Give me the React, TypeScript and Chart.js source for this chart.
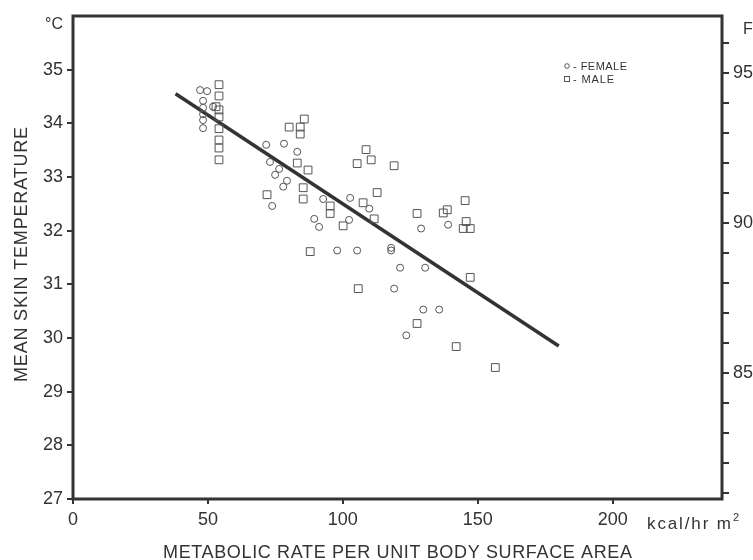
import React, { useEffect, useRef } from 'react';
import { Chart, registerables } from 'chart.js';

Chart.register(...registerables);

// ---- data ----
const femaleX = [47.1, 49.7, 48.2, 48.2, 51.9, 48.2, 48.2, 48.2, 71.6, 78.2, 83.1, 73.0, 76.4, 74.9, 79.3, 77.9, 73.8, 92.7, 89.4, 91.2, 102.7, 109.8, 102.3, 97.9, 105.3, 117.9, 117.9, 129.0, 139.0, 121.2, 130.5, 119.0, 129.8, 135.7, 123.5];
const femaleY = [34.62, 34.60, 34.42, 34.29, 34.31, 34.17, 34.06, 33.91, 33.60, 33.62, 33.47, 33.28, 33.15, 33.04, 32.93, 32.82, 32.46, 32.59, 32.22, 32.07, 32.61, 32.41, 32.20, 31.63, 31.63, 31.68, 31.63, 32.04, 32.11, 31.31, 31.31, 30.92, 30.53, 30.53, 30.05];
const maleX = [54.1, 54.1, 54.1, 53.0, 54.1, 54.1, 54.1, 54.1, 54.1, 85.7, 80.1, 84.2, 84.2, 83.1, 87.1, 85.3, 85.3, 71.9, 95.3, 95.3, 100.1, 108.6, 110.5, 105.3, 119.0, 112.7, 107.5, 111.6, 127.5, 137.2, 138.7, 145.3, 145.7, 144.6, 147.2, 147.2, 105.7, 87.9, 127.5, 142.0, 156.5];
const maleY = [34.72, 34.51, 34.25, 34.31, 34.12, 33.90, 33.69, 33.54, 33.32, 34.08, 33.93, 33.93, 33.80, 33.26, 33.13, 32.80, 32.59, 32.67, 32.46, 32.32, 32.09, 33.51, 33.32, 33.25, 33.21, 32.71, 32.52, 32.22, 32.32, 32.33, 32.39, 32.56, 32.17, 32.04, 32.04, 31.13, 30.92, 31.61, 30.27, 29.84, 29.45];
const fitX = [38, 180];
const fitY = [34.55, 29.85];

const xTicks = [0, 50, 100, 150, 200];
const cTicks = [27, 28, 29, 30, 31, 32, 33, 34, 35];
const fTicks = [81, 82, 83, 84, 85, 86, 87, 88, 89, 90, 91, 92, 93, 94, 95, 96];
const fLabeled = [85, 90, 95];

const xTitle = 'METABOLIC RATE PER UNIT BODY SURFACE AREA';
const yTitle = 'MEAN SKIN TEMPERATURE';
const xUnit = 'kcal/hr m';
const legendFemale = '- FEMALE';
const legendMale = '- MALE';

const FONT = '"Liberation Sans", Arial, sans-serif';
const INK = '#333333';

function spacedText(ctx: CanvasRenderingContext2D, text: string, left: number, y: number, width: number) {
  (ctx as any).letterSpacing = '0px';
  const w = ctx.measureText(text).width;
  const sp = (width - w) / Math.max(1, text.length - 1);
  (ctx as any).letterSpacing = sp.toFixed(2) + 'px';
  ctx.textAlign = 'left';
  ctx.fillText(text, left, y);
  (ctx as any).letterSpacing = '0px';
}

const decor = {
  id: 'decor',
  beforeDraw(chart: any) {
    const ctx = chart.ctx as CanvasRenderingContext2D;
    ctx.save();
    ctx.fillStyle = '#ffffff';
    ctx.fillRect(0, 0, chart.width, chart.height);
    ctx.restore();
  },
  afterDraw(chart: any) {
    const ctx = chart.ctx as CanvasRenderingContext2D;
    const a = chart.chartArea;
    ctx.save();
    ctx.strokeStyle = INK;
    ctx.lineWidth = 3;
    ctx.strokeRect(a.left, a.top, a.right - a.left, a.bottom - a.top);

    ctx.fillStyle = INK;
    ctx.textBaseline = 'alphabetic';
    // unit labels
    ctx.font = `16px ${FONT}`;
    ctx.textAlign = 'right';
    ctx.fillText('°C', 63, 29);
    ctx.textAlign = 'left';
    ctx.fillText('F', 743, 34);

    // x unit
    ctx.font = `17px ${FONT}`;
    spacedText(ctx, xUnit, 647, 529, 84);
    ctx.font = `11px ${FONT}`;
    ctx.textAlign = 'left';
    ctx.fillText('2', 733, 521);

    // axis titles
    ctx.font = `18px ${FONT}`;
    spacedText(ctx, xTitle, 163, 558, 469);
    ctx.save();
    ctx.translate(27, 254.5);
    ctx.rotate(-Math.PI / 2);
    spacedText(ctx, yTitle, -127.5, 0, 255);
    ctx.restore();

    // legend
    ctx.lineWidth = 1;
    ctx.strokeStyle = '#555';
    ctx.beginPath();
    ctx.arc(567, 66, 2.3, 0, Math.PI * 2);
    ctx.stroke();
    ctx.strokeRect(564.5, 76.5, 5, 5);
    ctx.font = `11px ${FONT}`;
    spacedText(ctx, legendFemale, 573, 70, 54);
    spacedText(ctx, legendMale, 573, 83, 41);
    ctx.restore();
  },
};

export default function App() {
  const ref = useRef<HTMLCanvasElement | null>(null);

  useEffect(() => {
    const canvas = ref.current;
    if (!canvas) return;
    const tickFont = { family: FONT, size: 18 };
    const chart = new Chart(canvas, {
      type: 'scatter',
      data: {
        datasets: [
          {
            label: 'Female',
            data: femaleX.map((x, i) => ({ x, y: femaleY[i] })),
            pointStyle: 'circle',
            pointRadius: 3.5,
            borderColor: '#555555',
            backgroundColor: 'rgba(0,0,0,0)',
            borderWidth: 1,
            yAxisID: 'y',
          },
          {
            label: 'Male',
            data: maleX.map((x, i) => ({ x, y: maleY[i] })),
            pointStyle: 'rect',
            pointRadius: 5.5,
            borderColor: '#555555',
            backgroundColor: 'rgba(0,0,0,0)',
            borderWidth: 1,
            yAxisID: 'y',
          },
          {
            type: 'line',
            label: 'Fit',
            data: fitX.map((x, i) => ({ x, y: fitY[i] })),
            borderColor: '#333333',
            borderWidth: 3.5,
            pointRadius: 0,
            showLine: true,
            fill: false,
            yAxisID: 'y',
          } as any,
        ],
      },
      options: {
        responsive: false,
        animation: false,
        devicePixelRatio: 1,
        layout: { padding: { top: 16, left: 0, right: 0, bottom: 0 } },
        plugins: { legend: { display: false }, tooltip: { enabled: false } },
        scales: {
          x: {
            type: 'linear',
            position: 'bottom',
            min: 0,
            max: 240.5,
            afterBuildTicks: (s: any) => { s.ticks = xTicks.map((v) => ({ value: v })); },
            afterFit: (s: any) => { s.height = 61; },
            grid: { drawOnChartArea: false, drawTicks: true, tickLength: 5, color: INK, lineWidth: 2 },
            border: { display: false },
            ticks: { font: tickFont, color: INK, padding: 5, maxRotation: 0, autoSkip: false },
          },
          y: {
            type: 'linear',
            position: 'left',
            min: 27,
            max: 36,
            afterBuildTicks: (s: any) => { s.ticks = cTicks.map((v) => ({ value: v })); },
            afterFit: (s: any) => { s.width = 73; },
            grid: { drawOnChartArea: false, drawTicks: true, tickLength: 6, color: INK, lineWidth: 2 },
            border: { display: false },
            ticks: { font: tickFont, color: INK, padding: 4, autoSkip: false },
          },
          y2: {
            type: 'linear',
            position: 'right',
            min: 80.8,
            max: 96.9,
            afterBuildTicks: (s: any) => { s.ticks = fTicks.map((v) => ({ value: v })); },
            afterFit: (s: any) => { s.width = 31; },
            grid: { drawOnChartArea: false, drawTicks: true, tickLength: 7, color: INK, lineWidth: 2 },
            border: { display: false },
            ticks: {
              font: tickFont,
              color: INK,
              padding: 4,
              autoSkip: false,
              callback: (v: any) => (fLabeled.includes(Number(v)) ? String(v) : ''),
            },
          },
        },
      },
      plugins: [decor],
    } as any);
    return () => chart.destroy();
  }, []);

  return (
    <div style={{ position: 'absolute', left: 0, top: 0, width: 753, height: 560 }}>
      <canvas ref={ref} width={753} height={560} />
    </div>
  );
}
